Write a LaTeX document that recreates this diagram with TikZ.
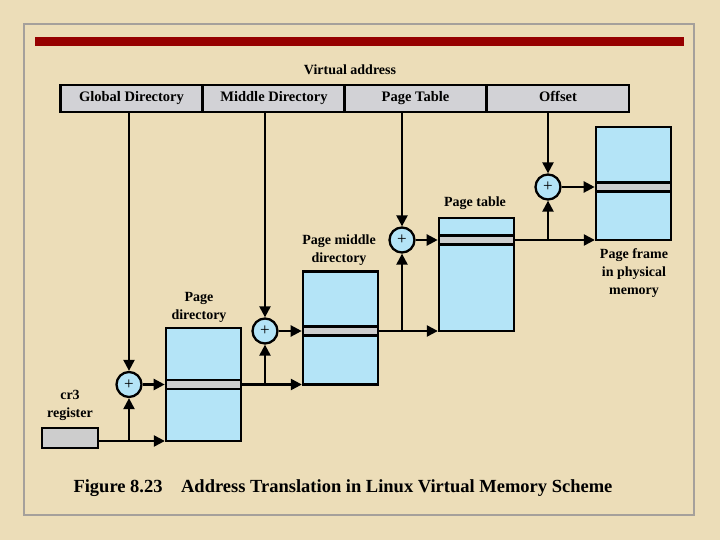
\documentclass[tikz,border=0pt]{standalone}
\usepackage{fontspec}
\setmainfont{Liberation Serif}
\usetikzlibrary{arrows.meta}
\definecolor{bg}{RGB}{236,221,184}
\definecolor{framec}{RGB}{165,160,155}
\definecolor{redbar}{RGB}{150,0,0}
\definecolor{tblue}{RGB}{180,228,247}
\definecolor{sgray}{RGB}{205,205,205}
\definecolor{agray}{RGB}{210,210,214}
\begin{document}
\begin{tikzpicture}[x=1pt,y=-1pt,line width=2.3pt,
 tbl/.style={draw,fill=tblue,minimum width=75pt,minimum height=113pt,inner sep=0pt},
 stripe/.style={draw,fill=sgray,minimum width=75pt,minimum height=9pt,inner sep=0pt,line width=2.6pt},
 adder/.style={circle,draw,fill=tblue,minimum size=25pt,inner sep=0pt,font=\fontsize{17}{17}\selectfont},
 fld/.style={draw,fill=agray,minimum width=142pt,minimum height=27pt,inner sep=0pt,text height=10pt,text depth=3pt,font=\fontsize{14.5}{16}\bfseries\selectfont},
 lbl/.style={align=center,font=\fontsize{14}{18}\bfseries\selectfont},
 arr/.style={-{Triangle[length=11pt,width=11pt]}}]
\useasboundingbox (0,0) rectangle (720,540);
\fill[bg] (0,0) rectangle (720,540);
\draw[framec,line width=2pt] (24,24) rectangle (694,515);
\fill[redbar] (35,37) rectangle (684,46);
% virtual address
\node[lbl] (va) at (350,70) {Virtual address};
\node[fld] (gd) at (131.5,98.5) {Global Directory};
\node[fld] (md) at (274,98.5) {Middle Directory};
\node[fld] (ptf) at (415.5,98.5) {Page Table};
\node[fld] (off) at (558,98.5) {Offset};
% tables
\node[tbl] (pd) at (203.5,384.5) {};
\node[stripe] (pds) at (203.5,384.5) {};
\node[tbl] (pmd) at (340.5,328) {};
\node[stripe] (pmds) at (340.5,331) {};
\node[tbl] (pt) at (476.5,274.5) {};
\node[stripe] (pts) at (476.5,240) {};
\node[tbl] (pf) at (633.5,183.5) {};
\node[stripe] (pfs) at (633.5,187) {};
% register
\node[draw,fill=sgray,minimum width=56pt,minimum height=20pt,inner sep=0pt] (cr3) at (70,438) {};
% adders
\node[adder] (a1) at (129,384.5) {+};
\node[adder] (a2) at (265,331) {+};
\node[adder] (a3) at (402,240) {+};
\node[adder] (a4) at (548,187) {+};
% labels
\node[lbl] (l1) at (70,405) {cr3\\register};
\node[lbl] (l2) at (199,307) {Page\\directory};
\node[lbl] (l3) at (339,250) {Page middle\\directory};
\node[lbl] (l4) at (475,203) {Page table};
\node[lbl] (l5) at (634,273) {Page frame\\in physical\\memory};
\node[font=\fontsize{18.5}{20}\bfseries\selectfont] (cap) at (343,488) {Figure 8.23\quad Address Translation in Linux Virtual Memory Scheme};
% address field lines
\draw[arr] (a1 |- gd.south) -- (a1.north);
\draw[arr] (a2 |- md.south) -- (a2.north);
\draw[arr] (a3 |- ptf.south) -- (a3.north);
\draw[arr] (a4 |- off.south) -- (a4.north);
% cr3 path
\coordinate (b1) at ([yshift=-3pt]cr3.east -| a1);
\draw[arr] ([yshift=-3pt]cr3.east) -- ([yshift=-3pt]cr3.east -| pd.west);
\draw[arr] (b1) -- (a1.south);
\draw[arr] (a1.east) -- (pds.west);
% page directory
\coordinate (b2) at (pds.east -| a2);
\draw[arr] (pds.east) -- (pds.east -| pmd.west);
\draw[arr] (b2) -- (a2.south);
\draw[arr] (a2.east) -- (pmds.west);
% page middle directory
\coordinate (b3) at (pmds.east -| a3);
\draw[arr] (pmds.east) -- (pmds.east -| pt.west);
\draw[arr] (b3) -- (a3.south);
\draw[arr] (a3.east) -- (pts.west);
% page table
\coordinate (b4) at (pts.east -| a4);
\draw[arr] (pts.east) -- (pts.east -| pf.west);
\draw[arr] (b4) -- (a4.south);
\draw[arr] (a4.east) -- (pfs.west);
\end{tikzpicture}
\end{document}
